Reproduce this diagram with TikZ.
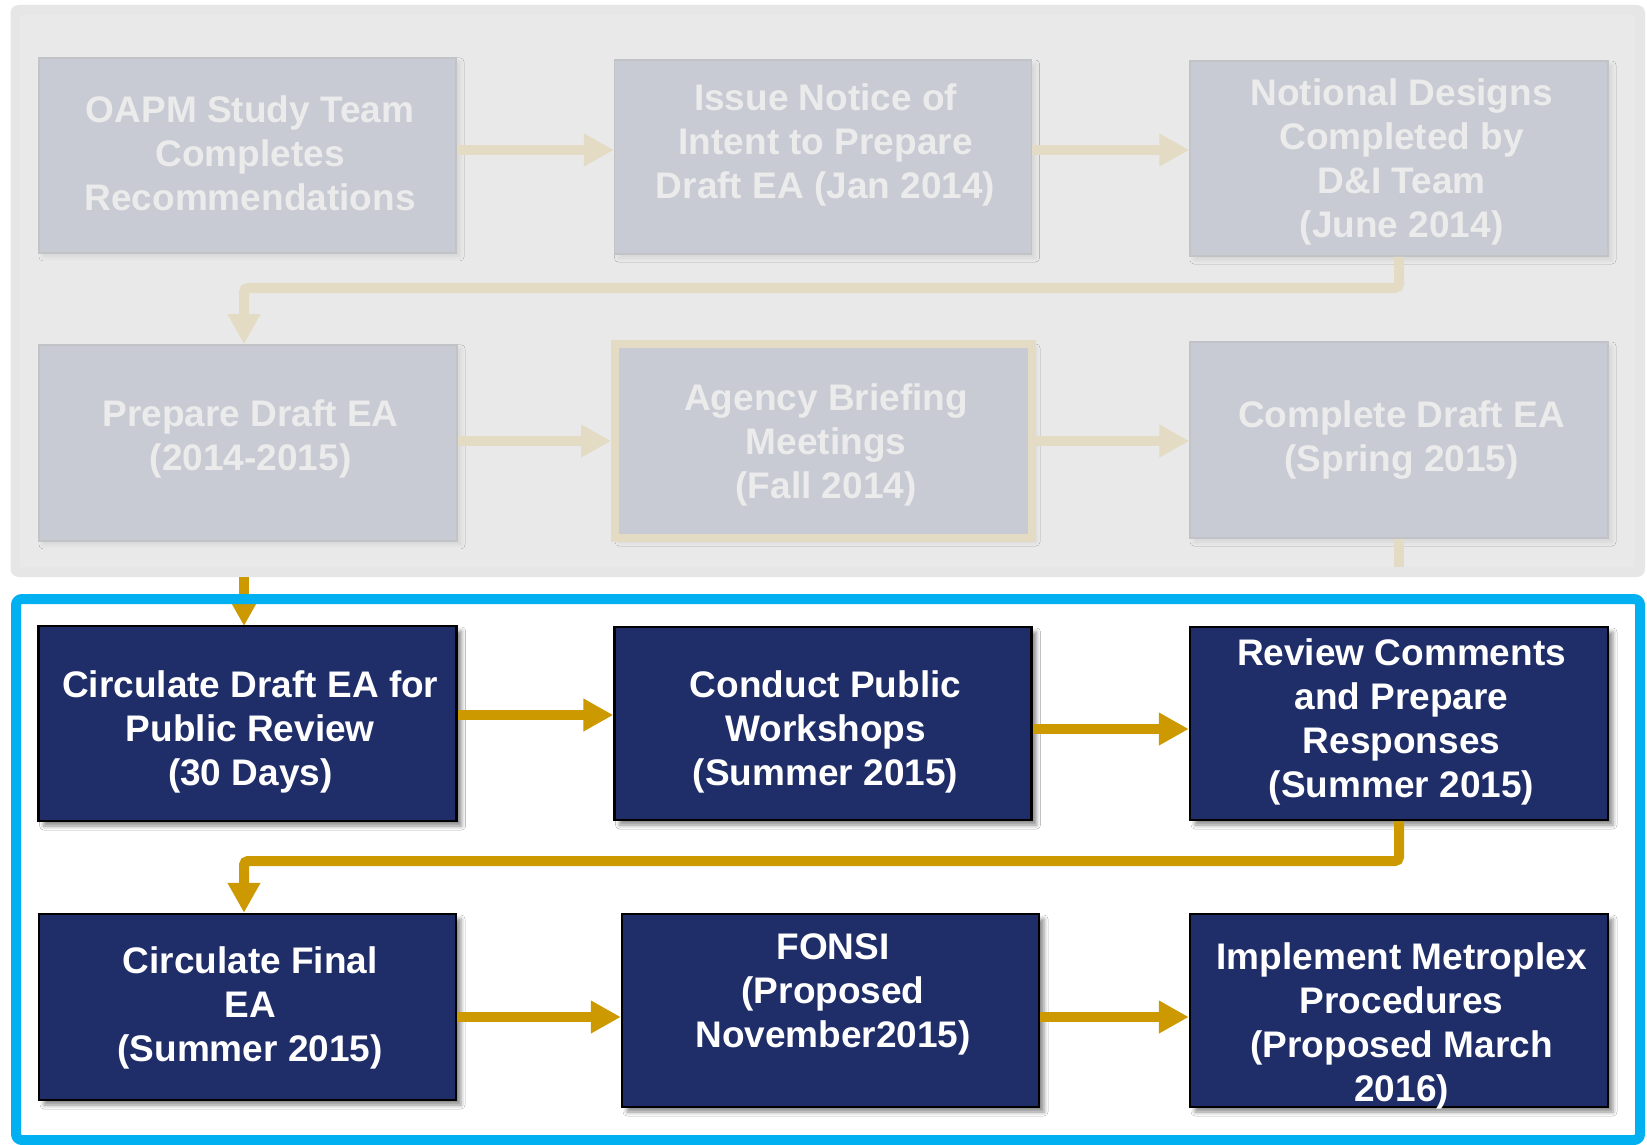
\documentclass[tikz,border=0pt]{standalone}
\usepackage{fontspec}
\setmainfont{Liberation Sans}
\usetikzlibrary{arrows.meta,shadows.blur,calc}
\definecolor{navy}{HTML}{1F2D69}
\definecolor{gold}{HTML}{CC9900}
\definecolor{skyb}{HTML}{00B0F0}
\definecolor{panelout}{HTML}{E6E6E6}
\definecolor{panelin}{HTML}{E9E9E9}
\definecolor{fadebox}{HTML}{C9CBD4}
\definecolor{fadeline}{HTML}{C2C3C7}
\definecolor{fadetext}{HTML}{EBEBEB}
\definecolor{beige}{HTML}{E3DBC4}
\begin{document}
\begin{tikzpicture}[x=1pt,y=-1pt,
  darkbox/.style={rectangle, fill=navy, draw=black, line width=2.5pt, inner sep=0pt,
    blur shadow={shadow xshift=5pt, shadow yshift=-5pt, shadow blur radius=4pt, shadow opacity=45}},
  fadedbox/.style={rectangle, fill=fadebox, draw=fadeline, line width=1.5pt, inner sep=0pt,
    blur shadow={shadow xshift=4pt, shadow yshift=-4pt, shadow blur radius=4pt, shadow opacity=8}},
  txt/.style={text=white, font=\fontsize{37}{44}\selectfont\bfseries, align=center, inner sep=0pt},
  ftxt/.style={txt, text=fadetext},
  goldarrow/.style={draw=gold, line width=10pt, -{Triangle[length=30pt,width=31pt]}},
  goldline/.style={draw=gold, line width=10pt},
  fadearrow/.style={draw=beige, line width=10pt, -{Triangle[length=30pt,width=31pt]}},
  fadeline/.style={draw=beige, line width=10pt}
]
\useasboundingbox (0,0) rectangle (1647,1145);
\fill[white] (0,0) rectangle (1647,1145);

% grey panel
\fill[panelout, rounded corners=8pt] (10.5,5) rectangle (1645,577);
\fill[panelin] (20,15) rectangle (1635,567);

% faded boxes
\node[fadedbox, minimum width=417pt, minimum height=195pt] (b1) at (247.5,155.4) {};
\node[fadedbox, minimum width=417pt, minimum height=194pt] (b2) at (823,157) {};
\node[fadedbox, minimum width=418pt, minimum height=195pt] (b3) at (1399,158.5) {};
\node[fadedbox, minimum width=418pt, minimum height=196pt] (b4) at (248,442.8) {};
\node[fadedbox, draw=beige, line width=8pt, minimum width=417pt, minimum height=194pt] (b5) at (823.5,441) {};
\node[fadedbox, minimum width=418pt, minimum height=196pt] (b6) at (1399,440) {};

\node[ftxt] (t1) at (250.1,153.4) {OAPM Study Team\\Completes\\Recommendations};
\node[ftxt] (t2) at (825.6,144.5) {Issue Notice of\\Intent to Prepare\\Draft EA (Jan 2014)};
\node[ftxt] (t3) at (1401.6,162.3) {Notional Designs\\Completed by\\D\&I Team\\(June 2014)};
\node[ftxt] (t4) at (250.6,438.5) {Prepare Draft EA\\(2014-2015)};
\node[ftxt] (t5) at (826.1,444.9) {Agency Briefing\\Meetings\\(Fall 2014)};
\node[ftxt] (t6) at (1401.6,440.1) {Complete Draft EA\\(Spring 2015)};

% faded connectors
\coordinate (yr1) at (0,150);
\coordinate (yr2) at (0,441);
\coordinate (k1) at (244,288);
\coordinate (stub) at (1399,567);
\draw[fadearrow] (b1.east |- yr1) -- (b2.west |- yr1);
\draw[fadearrow] (b2.east |- yr1) -- (b3.west |- yr1);
\draw[fadearrow, rounded corners=4pt] (b3.south) |- (k1) -- (k1 |- b4.north);
\draw[fadearrow] (b4.east |- yr2) -- (b5.west |- yr2);
\draw[fadearrow] (b5.east |- yr2) -- (b6.west |- yr2);
\draw[fadeline] (b6.south) -- (stub);

% active part
\coordinate (g0) at (244,577);
\draw[goldarrow] (g0) -- (g0 |- 0,626);
\draw[skyb, line width=10pt, rounded corners=6pt] (16,599) rectangle (1640,1140);

\node[darkbox, minimum width=418pt, minimum height=195pt] (b7) at (247.7,723.5) {};
\node[darkbox, minimum width=417pt, minimum height=193pt] (b8) at (823,723.5) {};
\node[darkbox, minimum width=418pt, minimum height=193pt] (b9) at (1399,723.5) {};
\node[darkbox, minimum width=417pt, minimum height=186pt] (b10) at (247.5,1007) {};
\node[darkbox, minimum width=417pt, minimum height=193pt] (b11) at (830.5,1010.5) {};
\node[darkbox, minimum width=418pt, minimum height=193pt] (b12) at (1399,1010.5) {};

\node[txt] (t7) at (250.3,731.7) {Circulate Draft EA for\\Public Review\\(30 Days)};
\node[txt] (t8) at (825.6,731.7) {Conduct Public\\Workshops\\(Summer 2015)};
\node[txt] (t9) at (1401.6,722) {Review Comments\\and Prepare\\Responses\\(Summer 2015)};
\node[txt] (t10) at (250.1,1008.4) {Circulate Final\\EA\\(Summer 2015)};
\node[txt] (t11) at (833.1,994.5) {FONSI\\(Proposed\\November2015)};
\node[txt] (t12) at (1401.6,1026) {Implement Metroplex\\Procedures\\(Proposed March\\2016)};

\coordinate (yr3a) at (0,715);
\coordinate (yr3b) at (0,729);
\coordinate (yr4) at (0,1017);
\coordinate (k2) at (244,861);
\draw[goldarrow] (b7.east |- yr3a) -- (b8.west |- yr3a);
\draw[goldarrow] (b8.east |- yr3b) -- (b9.west |- yr3b);
\draw[goldarrow, rounded corners=4pt] (b9.south) |- (k2) -- (k2 |- b10.north);
\draw[goldarrow] (b10.east |- yr4) -- (b11.west |- yr4);
\draw[goldarrow] (b11.east |- yr4) -- (b12.west |- yr4);
\end{tikzpicture}
\end{document}
